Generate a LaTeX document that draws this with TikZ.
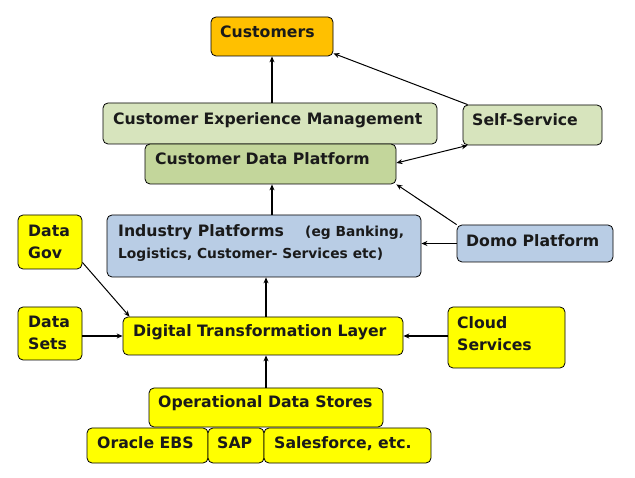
\documentclass[tikz,border=0pt]{standalone}
\usepackage{fontspec}
\setmainfont{DejaVu Sans}
\usetikzlibrary{arrows.meta}
\definecolor{cOrange}{HTML}{FFC000}
\definecolor{cLightGreen}{HTML}{D7E4BD}
\definecolor{cGreen}{HTML}{C3D69B}
\definecolor{cBlue}{HTML}{B9CDE5}
\definecolor{cYellow}{HTML}{FFFF00}
\definecolor{cText}{HTML}{1A1A1A}
\tikzset{
  box/.style={draw=black, line width=0.8pt, rounded corners=5pt, inner sep=0pt},
  txt/.style={anchor=base west, inner sep=0pt, text=cText, font=\bfseries\fontsize{15.7}{22}\selectfont},
  smalltxt/.style={anchor=base west, inner sep=0pt, text=cText, font=\bfseries\fontsize{13.8}{22}\selectfont},
  arr/.style={draw=black, line width=1.5pt, -{Stealth[length=6pt,width=5pt]}},
  thinarr/.style={draw=black, line width=1pt, -{Stealth[length=6pt,width=5pt]}},
  dblarr/.style={draw=black, line width=1pt, {Stealth[length=6pt,width=5pt]}-{Stealth[length=6pt,width=5pt]}},
}
\begin{document}
\begin{tikzpicture}[x=1pt,y=-1pt]
\useasboundingbox[fill=white] (0,0) rectangle (635,478);
% boxes
\node[box, fill=cOrange, minimum width=122pt, minimum height=39pt] (cust) at (272,36.5) {};
\node[box, fill=cLightGreen, minimum width=334pt, minimum height=41pt] (cem) at (270,123.5) {};
\node[box, fill=cLightGreen, minimum width=139pt, minimum height=40pt] (self) at (532.5,125) {};
\node[box, fill=cGreen, minimum width=251pt, minimum height=40pt] (cdp) at (270.5,164) {};
\node[box, fill=cBlue, minimum width=314pt, minimum height=62pt] (ind) at (264,246) {};
\node[box, fill=cBlue, minimum width=156pt, minimum height=37pt] (domo) at (535,243.5) {};
\node[box, fill=cYellow, minimum width=64pt, minimum height=54pt] (dgov) at (50,242) {};
\node[box, fill=cYellow, minimum width=64pt, minimum height=53pt] (dsets) at (50,333.5) {};
\node[box, fill=cYellow, minimum width=280pt, minimum height=38pt] (dtl) at (263,336) {};
\node[box, fill=cYellow, minimum width=117pt, minimum height=61pt] (cloud) at (506.5,337.5) {};
\node[box, fill=cYellow, minimum width=234pt, minimum height=39pt] (ods) at (266,407.5) {};
\node[box, fill=cYellow, minimum width=121pt, minimum height=35pt] (oracle) at (147.5,445.5) {};
\node[box, fill=cYellow, minimum width=56pt, minimum height=35pt] (sap) at (236,445.5) {};
\node[box, fill=cYellow, minimum width=167pt, minimum height=35pt] (sales) at (347.5,445.5) {};
% texts
\node[txt] (tcust) at (220,38) {Customers};
\node[txt] (tcem) at (113,125) {Customer Experience Management};
\node[txt] (tself) at (472,126) {Self-Service};
\node[txt] (tcdp) at (155,165) {Customer Data Platform};
\node[txt] (tind) at (118,237) {Industry Platforms};
\node[smalltxt] (tind2) at (305,237) {(eg Banking,};
\node[smalltxt] (tind3) at (118,259) {Logistics, Customer- Services etc)};
\node[txt] (tdomo) at (466,247) {Domo Platform};
\node[txt] (tdgov1) at (28,237) {Data};
\node[txt] (tdgov2) at (28,259) {Gov};
\node[txt] (tdsets1) at (28,328) {Data};
\node[txt] (tdsets2) at (28,350) {Sets};
\node[txt] (tdtl) at (133,337) {Digital Transformation Layer};
\node[txt] (tcloud1) at (457,329) {Cloud};
\node[txt] (tcloud2) at (457,351) {Services};
\node[txt] (tods) at (158,408) {Operational Data Stores};
\node[txt] (toracle) at (97,448) {Oracle EBS};
\node[txt] (tsap) at (217,448) {SAP};
\node[txt] (tsales) at (274,448) {Salesforce, etc.};
% connectors
\draw[arr] (cem.north -| cust.south) -- (cust.south);
\draw[thinarr] ([xshift=5pt]self.north west) -- ([yshift=3pt]cust.south east);
\draw[dblarr] ([yshift=1pt]cdp.east) -- ([xshift=5pt]self.south west);
\draw[thinarr] (domo.north west) -- (cdp.south east);
\draw[arr] (ind.north -| cust.south) -- (cdp.south -| cust.south);
\draw[arr] (domo.west) -- (domo.west -| ind.east);
\draw[arr] (dtl.north -| ods.north) -- (ind.south -| ods.north);
\draw[arr] (ods.north) -- (dtl.south -| ods.north);
\draw[arr] (dsets.east |- dtl.west) -- (dtl.west);
\draw[arr] (cloud.west |- dtl.east) -- (dtl.east);
\draw[thinarr] ([yshift=7pt]dgov.south east) -- ([xshift=7pt]dtl.north west);
\end{tikzpicture}
\end{document}
